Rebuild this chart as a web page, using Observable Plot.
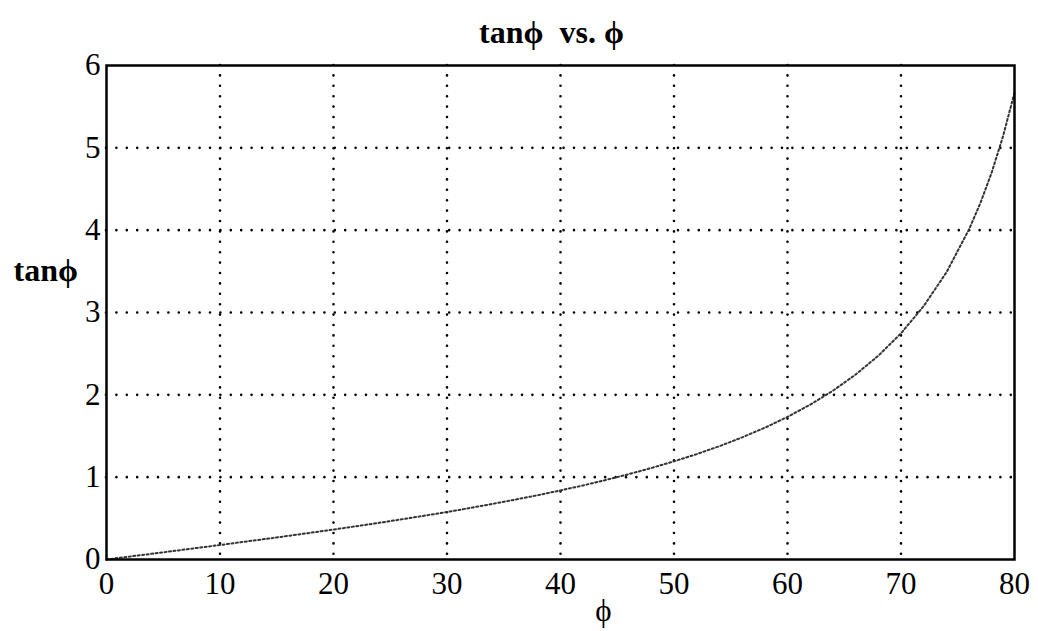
<!DOCTYPE html>
<html>
<head>
<meta charset="utf-8">
<script src="https://cdn.jsdelivr.net/npm/d3@7"></script>
<script src="https://cdn.jsdelivr.net/npm/@observablehq/plot@0.6"></script>
<style>
  html, body { margin: 0; padding: 0; background: #fff; }
  #chart svg { display: block; }
</style>
</head>
<body>
<div id="chart"></div>
<script>
// Angle φ in degrees
const phi = [0, 2, 4, 6, 8, 10, 12, 14, 16, 18, 20, 22, 24, 26, 28, 30, 32, 34, 36, 38, 40,
             42, 44, 46, 48, 50, 52, 54, 56, 58, 60, 62, 64, 66, 68, 70, 72, 74, 76, 77, 78, 79, 80];
// tan φ
const tanPhi = [0, 0.035, 0.070, 0.105, 0.141, 0.176, 0.213, 0.249, 0.287, 0.325, 0.364,
                0.404, 0.445, 0.488, 0.532, 0.577, 0.625, 0.675, 0.727, 0.781, 0.839,
                0.900, 0.966, 1.036, 1.111, 1.192, 1.280, 1.376, 1.483, 1.600, 1.732,
                1.881, 2.050, 2.246, 2.475, 2.747, 3.078, 3.487, 4.011, 4.331, 4.705, 5.145, 5.671];
const xTicks = [0, 10, 20, 30, 40, 50, 60, 70, 80];
const yTicks = [0, 1, 2, 3, 4, 5, 6];
const xGrid = [10, 20, 30, 40, 50, 60, 70];
const yGrid = [1, 2, 3, 4, 5];
const titleText = "tan\u03D5\u2002vs. \u03D5";
const xLabel = "\u03D5";
const yLabel = "tan\u03D5";

const data = phi.map((p, i) => ({phi: p, tan: tanPhi[i]}));
const font = "'Liberation Serif', 'Times New Roman', serif";

const chart = Plot.plot({
  width: 1038,
  height: 631,
  marginTop: 65,
  marginLeft: 106,
  marginRight: 24,
  marginBottom: 72,
  style: {fontFamily: font, background: "#fff", color: "#000"},
  x: {domain: [0, 80], ticks: xTicks, label: null},
  y: {domain: [0, 6], ticks: yTicks, label: null},
  marks: [
    Plot.ruleX(xGrid, {stroke: "#000", strokeWidth: 2.6, strokeDasharray: "0,10.4", strokeLinecap: "round"}),
    Plot.ruleY(yGrid, {stroke: "#000", strokeWidth: 2.6, strokeDasharray: "0,10.4", strokeLinecap: "round"}),
    Plot.line(data, {x: "phi", y: "tan", stroke: "#333", strokeWidth: 2, strokeDasharray: "2,2.5"}),
    Plot.frame({stroke: "#000", strokeWidth: 2.5}),
    Plot.axisX(xTicks, {tickSize: 0, tickPadding: 12, fontSize: 31, label: null, tickFormat: d => String(d)}),
    Plot.axisY(yTicks, {tickSize: 0, tickPadding: 6, fontSize: 31, label: null, tickFormat: d => String(d)}),
    Plot.text([titleText], {frameAnchor: "top", dx: -9, dy: -33, lineAnchor: "middle",
      fontSize: 32, fontWeight: "bold", fill: "#000"}),
    Plot.text([yLabel], {frameAnchor: "left", textAnchor: "start", dx: -93, dy: -42, lineAnchor: "middle",
      fontSize: 32, fontWeight: "bold", fill: "#000"}),
    Plot.text([xLabel], {frameAnchor: "bottom", dx: 43, dy: 52, lineAnchor: "middle",
      fontSize: 31, fill: "#000"})
  ]
});
document.getElementById("chart").appendChild(chart);
</script>
</body>
</html>
